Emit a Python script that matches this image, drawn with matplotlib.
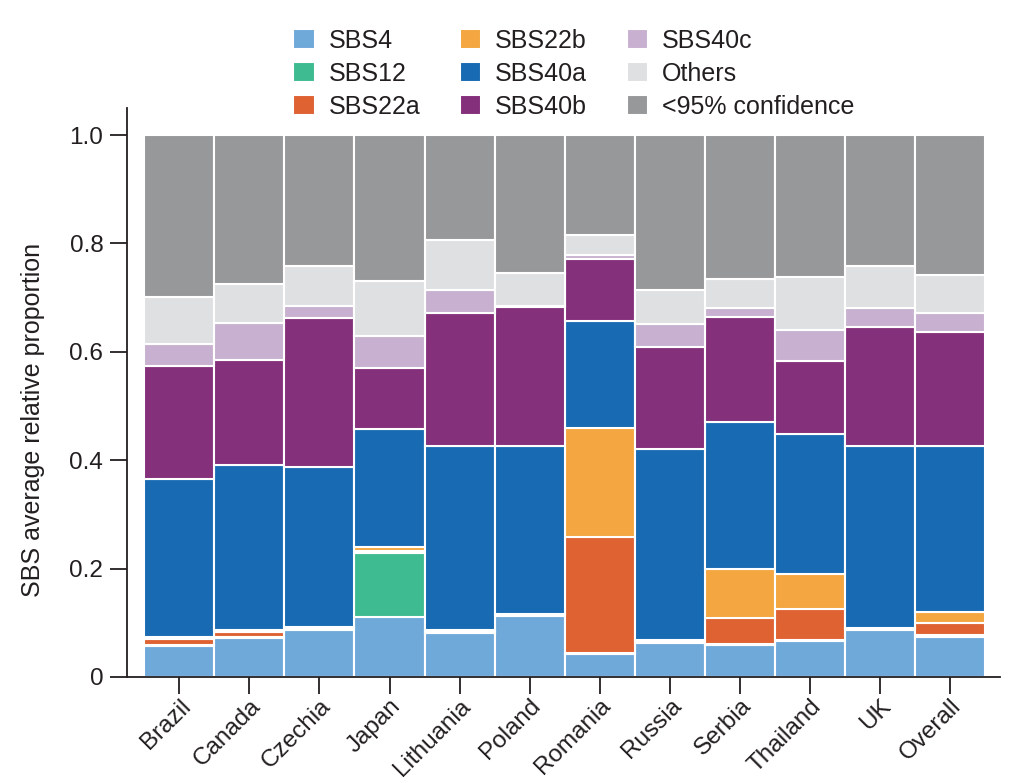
import numpy as np
import matplotlib
matplotlib.use("Agg")
from matplotlib import pyplot as plt

plt.rcParams['font.family'] = ['Liberation Sans', 'DejaVu Sans']

countries = ["Brazil", "Canada", "Czechia", "Japan", "Lithuania", "Poland",
             "Romania", "Russia", "Serbia", "Thailand", "UK", "Overall"]

# segment heights, bottom to top
sbs4 = [0.058, 0.072, 0.087, 0.110, 0.082, 0.113, 0.043, 0.063, 0.059, 0.067, 0.086, 0.073]
sbs12 = [0.001, 0.002, 0.001, 0.119, 0.001, 0.001, 0.001, 0.002, 0.001, 0.001, 0.002, 0.005]
sbs22a = [0.011, 0.009, 0.002, 0.004, 0.002, 0.001, 0.214, 0.002, 0.048, 0.058, 0.001, 0.021]
sbs22b = [0.004, 0.004, 0.002, 0.006, 0.002, 0.001, 0.202, 0.001, 0.092, 0.064, 0.001, 0.021]
sbs40a = [0.292, 0.305, 0.296, 0.219, 0.340, 0.311, 0.196, 0.352, 0.271, 0.259, 0.337, 0.306]
sbs40b = [0.208, 0.193, 0.274, 0.112, 0.245, 0.256, 0.115, 0.189, 0.193, 0.135, 0.219, 0.210]
sbs40c = [0.040, 0.068, 0.023, 0.060, 0.043, 0.002, 0.007, 0.042, 0.017, 0.057, 0.035, 0.036]
others = [0.088, 0.073, 0.073, 0.100, 0.091, 0.060, 0.037, 0.063, 0.053, 0.097, 0.077, 0.070]
low_conf = [0.298, 0.274, 0.242, 0.270, 0.194, 0.255, 0.185, 0.286, 0.266, 0.262, 0.242, 0.258]

names = ["SBS4", "SBS12", "SBS22a", "SBS22b", "SBS40a", "SBS40b", "SBS40c",
         "Others", "<95% confidence"]
colors = ["#6fa9da", "#3fbb91", "#df6233", "#f4a640", "#186ab3", "#84307a",
          "#c8b1d0", "#dfe0e1", "#969899"]
series = [sbs4, sbs12, sbs22a, sbs22b, sbs40a, sbs40b, sbs40c, others, low_conf]

fig = plt.figure(figsize=(10.28, 7.83), dpi=100)
ax = fig.add_axes([0.1235, 0.1354, 0.8493, 0.7267])

x = np.arange(len(countries))
bottom = np.zeros(len(countries))
handles = []
for vals, col, name in zip(series, colors, names):
    vals = np.array(vals)
    b = ax.bar(x, vals, width=1.0, bottom=bottom, color=col,
               edgecolor="white", linewidth=1.5, label=name)
    handles.append(b)
    bottom += vals

ax.set_xlim(-0.746, 11.71)
ax.set_ylim(0, 1.05)
ax.set_yticks([0, 0.2, 0.4, 0.6, 0.8, 1.0])
ax.set_yticklabels(["0", "0.2", "0.4", "0.6", "0.8", "1.0"])
ax.set_xticks(x)
ax.set_xticklabels(countries, rotation=45, ha="right", rotation_mode="anchor")

for s in ["top", "right"]:
    ax.spines[s].set_visible(False)
for s in ["left", "bottom"]:
    ax.spines[s].set_linewidth(1.3)
    ax.spines[s].set_color("#231f20")
ax.tick_params(axis="both", length=12, width=1.3, color="#231f20",
               labelsize=17.5, labelcolor="#231f20", pad=5)
ax.tick_params(axis="x", pad=1)
ax.set_ylabel("SBS average relative proportion", fontsize=18, color="#231f20")
ax.yaxis.set_label_coords(-0.094, 0.4517)

leg = fig.legend(handles=handles, loc="center",
                 bbox_to_anchor=(574 / 1028, 1 - 74 / 783), ncol=3,
                 frameon=False, fontsize=18, handlelength=0.85, handleheight=0.85,
                 handletextpad=0.55, columnspacing=1.6, labelspacing=0.36)
for t in leg.get_texts():
    t.set_color("#231f20")

plt.savefig("out.png", dpi=100)
